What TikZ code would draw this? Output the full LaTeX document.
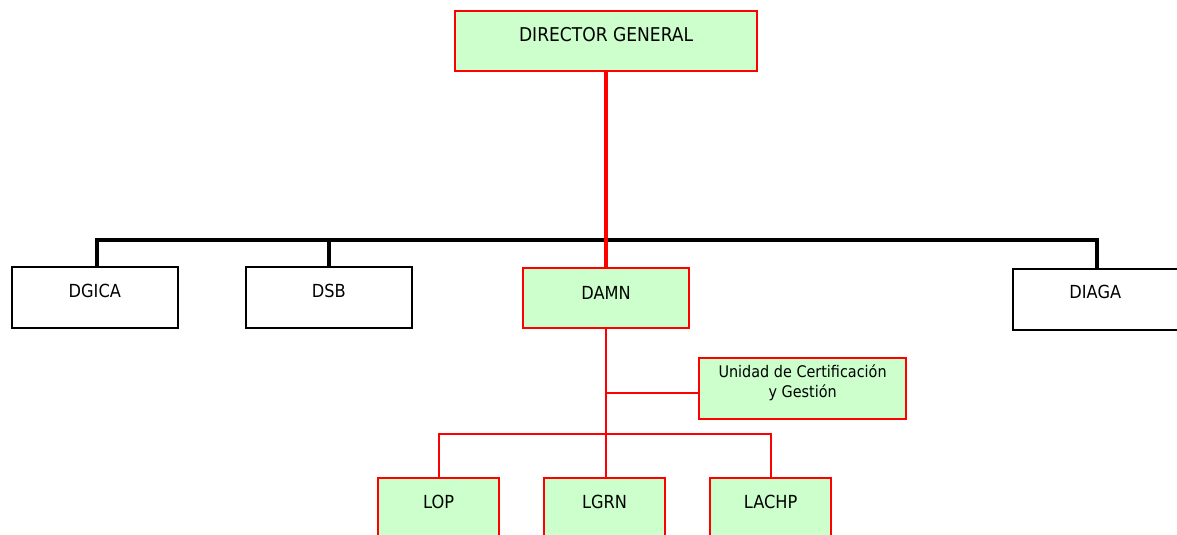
\documentclass[tikz,border=0pt]{standalone}
\usepackage{fontspec}
\setmainfont{DejaVu Sans}[FakeStretch=0.9]
\definecolor{boxgreen}{HTML}{CCFFCC}
\definecolor{boxred}{HTML}{FF0000}
\begin{document}
\begin{tikzpicture}[x=1pt,y=-1pt,
  gbox/.style={draw=boxred,line width=2.2pt,fill=boxgreen,inner sep=0pt,anchor=north west,
     font=\fontsize{18}{21}\selectfont},
  wbox/.style={draw=black,line width=1.6pt,fill=white,inner sep=0pt,anchor=north west,
     font=\fontsize{18}{21}\selectfont},
  bus/.style={draw=black,line width=4pt},
  thickred/.style={draw=boxred,line width=4pt},
  thinred/.style={draw=boxred,line width=2pt}]
\useasboundingbox (0,0) rectangle (1177,535);
% nodes
\node[gbox,minimum width=302pt,text height=30pt,text depth=30pt,font=\fontsize{19}{22}\selectfont] (dg) at (454,10) {DIRECTOR GENERAL};
\node[wbox,minimum width=166pt,text height=31pt,text depth=30pt] (dgica) at (11,266) {DGICA};
\node[wbox,minimum width=166pt,text height=31pt,text depth=30pt] (dsb) at (245,266) {DSB};
\node[wbox,minimum width=165pt,text height=30pt,text depth=31pt] (diaga) at (1012,268) {DIAGA};
% bus
\coordinate (busL) at (97,240);
\coordinate (busM) at (329,240);
\coordinate (busR) at (1097,240);
\draw[bus] (busL |- dgica.north) -- (busL) -- (busR) -- (busR |- diaga.north);
\draw[bus] (busM) -- (busM |- dsb.north);
\node[gbox,minimum width=166pt,text height=31pt,text depth=29pt] (damn) at (522,267) {DAMN};
\draw[thickred] (dg.south) -- (damn.north);
% unidad
\node[gbox,minimum width=207pt,minimum height=61pt,
  label={[yshift=5.5pt,align=center,font=\fontsize{16}{20}\selectfont]center:Unidad de Certificación\\y Gestión}] (unid) at (698,357) {};
% lower
\node[gbox,minimum width=121pt,text height=30pt,text depth=30pt] (lop) at (377,477) {LOP};
\node[gbox,minimum width=121pt,text height=30pt,text depth=30pt] (lgrn) at (543,477) {LGRN};
\node[gbox,minimum width=121pt,text height=30pt,text depth=30pt] (lachp) at (709,477) {LACHP};
\coordinate (junc) at (606,434);
\coordinate (ubr) at (606,393);
\draw[thinred] (damn.south -| junc) -- (junc);
\draw[thinred] (ubr) -- (ubr -| unid.west);
\draw[thinred] (lop.north) -- (lop.north |- junc) -- (lachp.north |- junc) -- (lachp.north);
\draw[thinred] (junc) -- (junc |- lgrn.north);
\end{tikzpicture}
\end{document}
